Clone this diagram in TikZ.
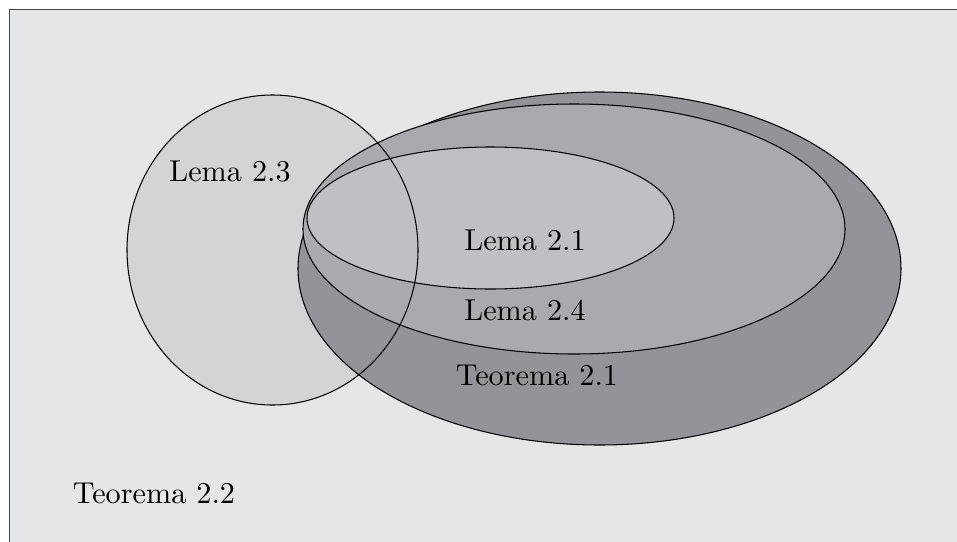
\documentclass[tikz,border=0pt]{standalone}
\usetikzlibrary{positioning}

\definecolor{fondo}{RGB}{229,230,232}
\definecolor{marco}{RGB}{70,70,70}
\definecolor{teouno}{RGB}{147,148,151}
\definecolor{lemacuatro}{RGB}{169,170,173}
\definecolor{lemauno}{RGB}{191,192,195}
\definecolor{lematres}{RGB}{211,212,214}

\tikzset{
  conj/.style={draw=black, line width=0.35pt},
  etiq/.style={inner sep=1pt}
}

\begin{document}
\begin{tikzpicture}[x=0.331pt,y=-0.331pt]
\path[use as bounding box] (0,0) rectangle (957,541);
\clip (0,0) rectangle (957,541);
\draw[draw=marco, line width=0.6pt, fill=fondo] (9.5,9.5) rectangle (990,570);

% conjuntos
\fill[lematres] (272.5,250) ellipse [x radius=145.5, y radius=155];
\draw[conj, fill=teouno] (599.5,268.5) ellipse [x radius=301.5, y radius=176.5];
\draw[conj, fill=lemacuatro] (574,229) ellipse [x radius=271, y radius=125];
\draw[conj, fill=lemauno] (490.5,218) ellipse [x radius=183.5, y radius=71];
\draw[conj] (272.5,250) ellipse [x radius=145.5, y radius=155];

% etiquetas
\node[etiq] (l23) at (230,172) {Lema 2.3};
\node[etiq] (l21) at (525,240) {Lema 2.1};
\node[etiq] (l24) at (525,310) {Lema 2.4};
\node[etiq] (t21) at (537,375) {Teorema 2.1};
\node[etiq] (t22) at (154,493) {Teorema 2.2};
\end{tikzpicture}
\end{document}
